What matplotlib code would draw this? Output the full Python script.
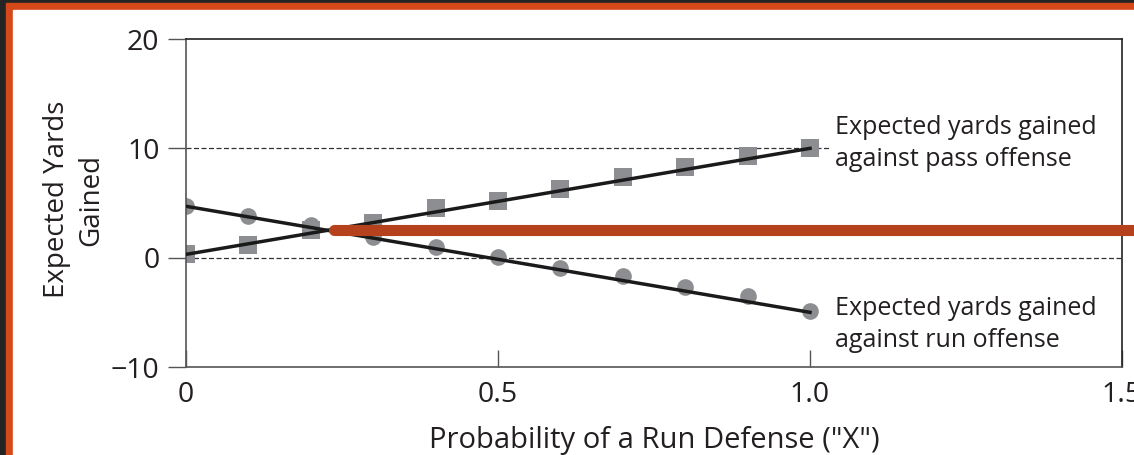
import matplotlib
matplotlib.use("Agg")
import matplotlib.pyplot as plt
from matplotlib.patches import Rectangle

plt.rcParams['font.family'] = ['Open Sans', 'DejaVu Sans']

# probability of a run defense
x_pts = [0, 0.1, 0.2, 0.3, 0.4, 0.5, 0.6, 0.7, 0.8, 0.9, 1.0]
# expected yards vs pass offense (squares)
pass_pts = [0.3, 1.2, 2.5, 3.2, 4.5, 5.2, 6.3, 7.4, 8.3, 9.3, 10.0]
# expected yards vs run offense (circles)
run_pts = [4.7, 3.8, 3.0, 1.9, 1.0, 0.1, -0.9, -1.7, -2.7, -3.5, -4.9]

# straight lines through the points
line_x = [0, 1.0]
pass_line = [0.3, 10.0]
run_line = [4.7, -5.0]

# where they cross (value of the game)
cross_x = 0.227
cross_y = 2.5

xticks = [0, 0.5, 1.0, 1.5]
xtick_labels = ["0", "0.5", "1.0", "1.5"]
yticks = [-10, 0, 10, 20]
ytick_labels = ["\u221210", "0", "10", "20"]

pass_label = "Expected yards gained\nagainst pass offense"
run_label = "Expected yards gained\nagainst run offense"

fig = plt.figure(figsize=(11.34, 4.55), dpi=100)
W, H = 1134.0, 455.0

# dark frame, orange border, white page
fig.patches.append(Rectangle((0, 0), 1, 1, transform=fig.transFigure,
                             color='#242424', zorder=-3))
fig.patches.append(Rectangle((6 / W, 0), 1, 1 - 3 / H, transform=fig.transFigure,
                             color='#d4481a', zorder=-2))
fig.patches.append(Rectangle((13 / W, 0), 1, 1 - 10 / H, transform=fig.transFigure,
                             color='white', zorder=-1))

ax = fig.add_axes([186 / W, 1 - 367 / H, (1122 - 186) / W, (367 - 39) / H])
ax.set_facecolor('none')

ax.set_xlim(0, 1.5)
ax.set_ylim(-10, 20)

ax.axhline(0, color='#333333', lw=0.9, ls=(0, (4, 2)), zorder=1)
ax.plot([0, 1.03], [10, 10], color='#333333', lw=0.9, ls=(0, (4, 2)), zorder=1)

ax.plot(x_pts, pass_pts, 's', color='#8d8e92', ms=13.5, mew=0, zorder=2)
ax.plot(x_pts, run_pts, 'o', color='#8d8e92', ms=12, mew=0, zorder=2)
ax.plot(line_x, pass_line, color='#1a1a1a', lw=2.5, zorder=3)
ax.plot(line_x, run_line, color='#1a1a1a', lw=2.5, zorder=3)

ax.plot([cross_x + 0.01, 1.6], [cross_y, cross_y], color='#b5421c', lw=8,
        solid_capstyle='round', clip_on=False, zorder=5)

ax.text(1.04, 10.45, pass_label, fontsize=18, color='#231f20',
        ha='left', va='center', linespacing=1.35)
ax.text(1.04, -6.1, run_label, fontsize=18, color='#231f20',
        ha='left', va='center', linespacing=1.35)

ax.set_xticks(xticks)
ax.set_xticklabels(xtick_labels)
ax.set_yticks(yticks)
ax.set_yticklabels(ytick_labels)
ax.tick_params(axis='x', direction='in', length=12, width=1, color='#555555',
               labelsize=20.5, labelcolor='#231f20', pad=10)
ax.tick_params(axis='y', direction='out', length=13, width=1, color='#555555',
               labelsize=20.5, labelcolor='#231f20', pad=6)

for side in ['left', 'bottom']:
    ax.spines[side].set_color('#555555')
    ax.spines[side].set_linewidth(1.2)
for side in ['top', 'right']:
    ax.spines[side].set_color('#222222')
    ax.spines[side].set_linewidth(1.2)

ax.set_xlabel('Probability of a Run Defense ("X")', fontsize=21,
              color='#231f20')
ax.xaxis.set_label_coords(0.5, -0.18)
ax.set_ylabel('Expected Yards\nGained', fontsize=20, color='#231f20',
              linespacing=1.3)
ax.yaxis.set_label_coords(-0.086, 0.51)

fig.savefig('out.png', dpi=100)
